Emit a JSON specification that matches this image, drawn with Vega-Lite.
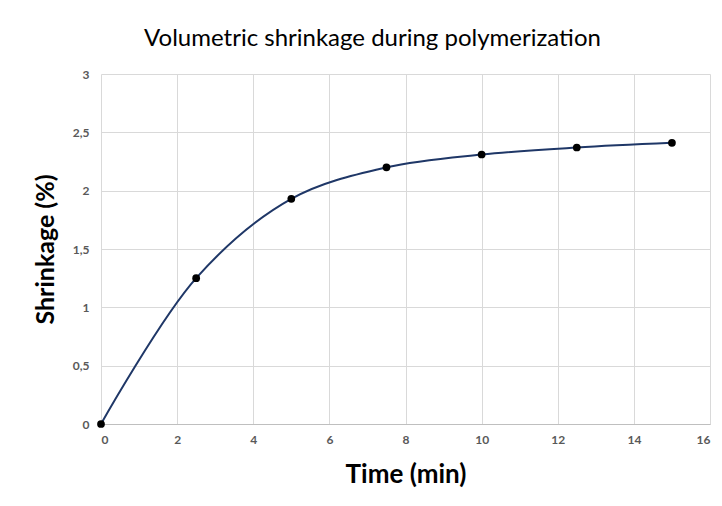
{
  "$schema": "https://vega.github.io/schema/vega-lite/v6.json",
  "autosize": "none",
  "width": 609,
  "height": 350,
  "padding": {"left": 101, "top": 74, "right": 12, "bottom": 82},
  "background": "white",
  "title": {
    "text": "Volumetric shrinkage during polymerization",
    "font": "Lato",
    "fontSize": 24,
    "fontWeight": "normal",
    "color": "#000000",
    "anchor": "middle",
    "dx": -33,
    "offset": 17
  },
  "data": {
    "values": [
      {"time": 0, "shrinkage": 0},
      {"time": 2.5, "shrinkage": 1.25},
      {"time": 5, "shrinkage": 1.93},
      {"time": 7.5, "shrinkage": 2.2},
      {"time": 10, "shrinkage": 2.31},
      {"time": 12.5, "shrinkage": 2.37},
      {"time": 15, "shrinkage": 2.41}
    ]
  },
  "encoding": {
    "x": {
      "field": "time",
      "type": "quantitative",
      "scale": {"domain": [0, 16], "nice": false},
      "axis": {
        "title": "Time (min)",
        "values": [0, 2, 4, 6, 8, 10, 12, 14, 16],
        "labelExpr": "replace(format(datum.value, ''), '.', ',')",
        "titleFont": "Lato",
        "titleFontSize": 26,
        "titleFontWeight": "bold",
        "titleColor": "#000000",
        "titlePadding": 16,
        "labelFont": "Lato",
        "labelFontSize": 12,
        "labelFontWeight": "bold",
        "labelColor": "#595959",
        "labelPadding": 10,
        "ticks": false,
        "domain": true,
        "domainColor": "#bfbfbf",
        "grid": true,
        "gridColor": "#d9d9d9"
      }
    },
    "y": {
      "field": "shrinkage",
      "type": "quantitative",
      "scale": {"domain": [0, 3], "nice": false},
      "axis": {
        "title": "Shrinkage (%)",
        "values": [0, 0.5, 1, 1.5, 2, 2.5, 3],
        "labelExpr": "replace(format(datum.value, ''), '.', ',')",
        "titleFont": "Lato",
        "titleFontSize": 25,
        "titleFontWeight": "bold",
        "titleColor": "#000000",
        "titlePadding": 14,
        "labelFont": "Lato",
        "labelFontSize": 12,
        "labelFontWeight": "bold",
        "labelColor": "#595959",
        "labelPadding": 12,
        "ticks": false,
        "domain": false,
        "grid": true,
        "gridColor": "#d9d9d9"
      }
    }
  },
  "layer": [
    {
      "mark": {"type": "line", "interpolate": "catmull-rom", "color": "#1f3767", "strokeWidth": 2}
    },
    {
      "mark": {"type": "point", "filled": true, "color": "#000000", "size": 60, "opacity": 1}
    }
  ],
  "config": {"view": {"stroke": null}}
}
